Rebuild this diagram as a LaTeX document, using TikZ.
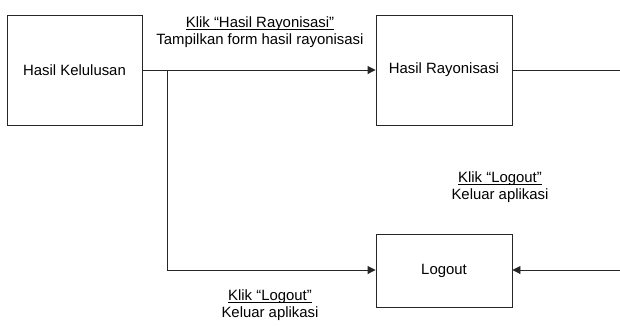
\documentclass[tikz,border=0pt]{standalone}
\usepackage{fontspec}
\setmainfont{Liberation Sans}
\usetikzlibrary{arrows.meta}
\newcommand{\myul}[1]{\setbox0\hbox{#1}\rlap{\rule[-2.6pt]{\wd0}{0.7pt}}\box0}
\begin{document}
\begin{tikzpicture}[x=1pt,y=-1pt,
  box/.style={draw=black!85,line width=0.9pt,inner sep=0pt,font=\fontsize{14.9}{17}\selectfont},
  lbl/.style={align=center,inner sep=0pt,font=\fontsize{14.9}{17}\selectfont},
  conn/.style={draw=black!85,line width=0.9pt},
  arr/.style={conn,-{Triangle[length=8pt,width=8pt]}}]
\useasboundingbox (0,0) rectangle (620,325);
\node[box,minimum width=135pt,minimum height=110pt] (kel) at (74.5,70) {Hasil Kelulusan};
\node[box,minimum width=136pt,minimum height=110pt] (ray) at (444,70) {Hasil Rayonisasi};
\node[box,minimum width=136pt,minimum height=73pt] (log) at (444,270.5) {Logout};
\coordinate (r1) at (620,70);
\coordinate (r2) at (620,270);
\coordinate (br) at (167,70);
\coordinate (bl) at (167,270);
\draw[arr] (kel.east) -- (ray.west);
\draw[arr] (br) -- (bl) -- (log.west |- bl);
\draw[conn] (ray.east) -- (r1);
\draw[arr] (r2) -- (log.east |- r2);
\node[lbl] (l1) at (260,32) {\myul{Klik “Hasil Rayonisasi”}\\Tampilkan form hasil rayonisasi};
\node[lbl] (l2) at (500,187) {\myul{Klik “Logout”}\\Keluar aplikasi};
\node[lbl] (l3) at (270,305) {\myul{Klik “Logout”}\\Keluar aplikasi};
\end{tikzpicture}
\end{document}
